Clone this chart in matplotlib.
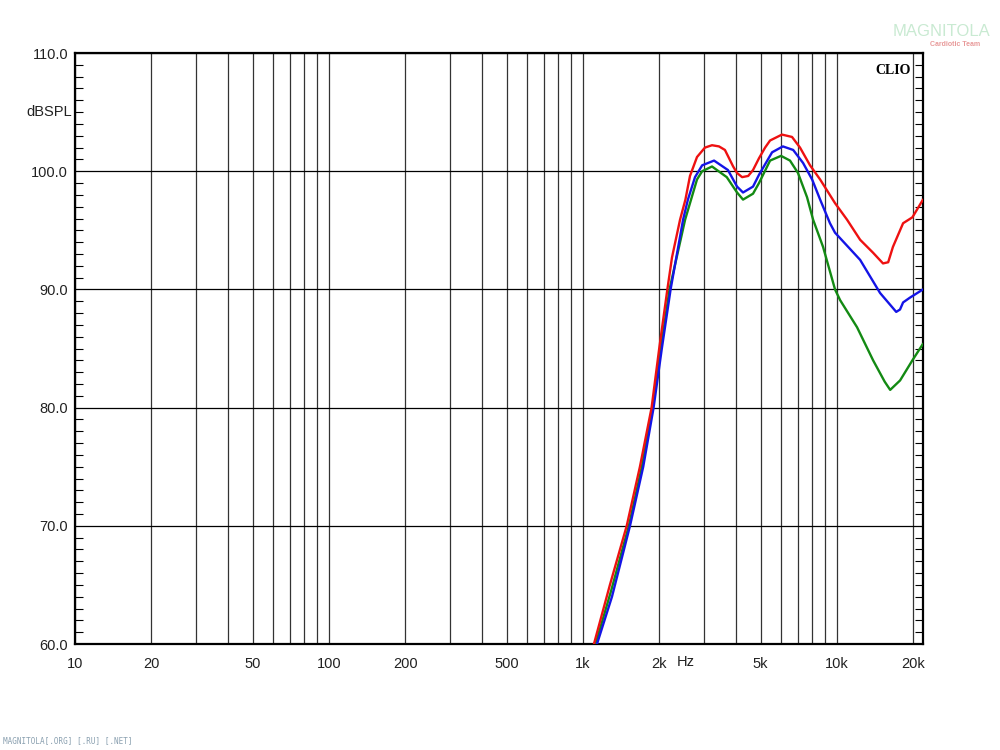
import numpy as np
import matplotlib
matplotlib.use('Agg')
from matplotlib import pyplot as plt
from matplotlib.ticker import FixedLocator, NullFormatter

# frequency response readings (Hz, dB SPL)
red_f = [1104, 1276, 1486, 1675, 1862, 1995, 2148, 2240, 2410, 2530, 2637, 2810,
         3020, 3220, 3430, 3620, 3900, 4040, 4230, 4470, 4670, 4930, 5210, 5450, 6070,
         6650, 7150, 7830, 8580, 9820, 10950, 12330, 13870, 15170, 15900, 16600, 18200,
         19800, 21800]
red_db = [60, 65, 70, 75, 80, 85, 90, 92.7, 95.9, 97.6, 99.6, 101.2,
          102.0, 102.2, 102.1, 101.8, 100.4, 99.85, 99.5, 99.6, 100.1, 101.1, 102.0, 102.6, 103.1,
          102.9, 102.0, 100.5, 99.3, 97.3, 95.9, 94.2, 93.1, 92.2, 92.3, 93.6, 95.6,
          96.1, 97.6]

blue_f = [1135, 1300, 1531, 1726, 1896, 2043, 2212, 2477, 2588, 2760, 2945, 3280,
          3720, 4040, 4265, 4670, 4930, 5550, 6120, 6720, 7350, 7980, 8580, 9380, 9820,
          12330, 14770, 17100, 17700, 18200, 19350, 21800]
blue_db = [60, 64, 70, 75, 80, 85, 90, 95.9, 97.6, 99.5, 100.5, 100.9,
           100.1, 98.7, 98.2, 98.7, 99.7, 101.6, 102.1, 101.8, 100.7, 99.3, 97.6, 95.6, 94.8,
           92.5, 89.7, 88.1, 88.3, 88.9, 89.3, 90.0]

green_f = [1120, 1290, 1515, 1705, 1880, 2025, 2190, 2523, 2810, 2945, 3220, 3680,
           4040, 4265, 4670, 4930, 5450, 6020, 6530, 7020, 7620, 8050, 8810, 9820, 10280,
           11990, 13870, 15400, 16190, 17710, 19800, 21800]
green_db = [60, 64.5, 70, 75, 80, 85, 90, 95.9, 99.3, 100.0, 100.4, 99.5,
            98.2, 97.6, 98.1, 99.0, 100.9, 101.3, 100.9, 99.85, 97.8, 95.9, 93.6, 90.0, 89.1,
            86.8, 84.0, 82.2, 81.5, 82.3, 84.0, 85.4]

xtick_vals = [10, 20, 50, 100, 200, 500, 1000, 2000, 5000, 10000, 20000]
xtick_labels = ['10', '20', '50', '100', '200', '500', '1k', '2k', '5k', '10k', '20k']
ytick_vals = [60, 70, 80, 90, 100, 110]

plt.rcParams['font.family'] = ['Liberation Sans', 'DejaVu Sans']

fig = plt.figure(figsize=(10, 7.5), dpi=100)
ax = fig.add_axes([0.075, 0.1413, 0.848, 0.788])

# vertical grid at 1-2-3..9 per decade
grid_f = [m * 10 ** d for d in range(1, 5) for m in range(1, 10) if m * 10 ** d <= 22000]
for f in grid_f:
    ax.axvline(f, color='#333333', lw=0.9, zorder=1)
for y in ytick_vals:
    ax.axhline(y, color='black', lw=0.9, zorder=1)

style = dict(lw=1.7, solid_joinstyle='round', solid_capstyle='round')
ax.plot(green_f, green_db, color='#138a13', zorder=3, **style)
ax.plot(blue_f, blue_db, color='#1414e6', zorder=4, **style)
ax.plot(red_f, red_db, color='#ee1111', zorder=5, **style)

ax.set_xscale('log')
ax.set_xlim(10, 21800)
ax.set_ylim(60, 110)

ax.xaxis.set_major_locator(FixedLocator(xtick_vals))
ax.xaxis.set_minor_locator(FixedLocator([]))
ax.xaxis.set_minor_formatter(NullFormatter())
ax.set_xticklabels(xtick_labels)
ax.tick_params(axis='x', length=0, pad=9, labelsize=10.5, colors='#222222')

ax.set_yticks(ytick_vals)
ax.set_yticklabels(['%.1f' % v for v in ytick_vals])
ax.yaxis.set_minor_locator(FixedLocator(np.arange(60, 111, 1)))
ax.tick_params(axis='y', which='major', length=0, pad=5, labelsize=10.5, colors='#222222')
ax.tick_params(axis='y', which='minor', direction='in', length=6, width=0.8,
               left=True, right=True)

for s in ax.spines.values():
    s.set_linewidth(1.6)
    s.set_color('black')

ax.text(-0.004, 0.9, 'dBSPL', transform=ax.transAxes, ha='right', va='center',
        fontsize=10.5, color='#222222')
fig.text(0.686, 0.118, 'Hz', ha='center', va='center', fontsize=10.5, color='#222222')
ax.text(0.985, 0.982, 'CLIO', transform=ax.transAxes, ha='right', va='top',
        fontsize=10, fontweight='bold', family='Liberation Serif')

# watermarks
fig.text(0.941, 0.958, 'MAGNITOLA', ha='center', va='center', fontsize=12,
         color='#c9ead2', fontstretch='condensed')
fig.text(0.955, 0.941, 'Cardiotic Team', ha='center', va='center', fontsize=5,
         color='#e89a9a', fontweight='bold')
fig.text(0.003, 0.012, 'MAGNITOLA[.ORG] [.RU] [.NET]', ha='left', va='center',
         fontsize=5.5, color='#8aa0b0', family='DejaVu Sans Mono')

plt.savefig('out.png', dpi=100)
plt.close()
